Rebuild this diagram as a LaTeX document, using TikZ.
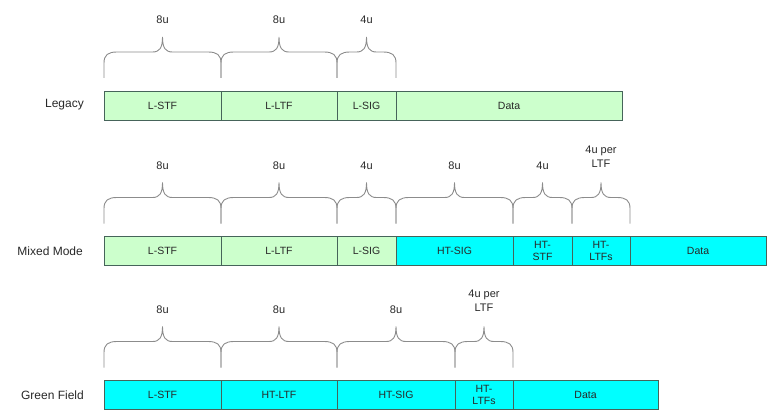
\documentclass[tikz,border=0pt]{standalone}
\usepackage{fontspec}
\setmainfont{Liberation Sans}
\usetikzlibrary{calc,positioning}

\definecolor{legacygreen}{RGB}{204,255,204}
\definecolor{htcyan}{RGB}{0,255,255}
\definecolor{fieldline}{RGB}{70,100,90}
\definecolor{bracegray}{RGB}{140,140,140}
\definecolor{textgray}{RGB}{40,40,40}

% brace over one field: [label height] {node} {label}
\newcommand{\fieldbrace}[3][71]{%
  \coordinate (bl) at (#2.north west);
  \coordinate (br) at (#2.north east);
  \coordinate (bm) at ($(bl)!0.5!(br)$);
  \draw[brc] ($(bl)+(0,13)$) -- ($(bl)+(0,28)$)
    .. controls ($(bl)+(0,36)$) and ($(bl)+(4,39)$) .. ($(bl)+(13,39)$)
    -- ($(bm)+(-10,39)$)
    .. controls ($(bm)+(-3,39)$) and ($(bm)+(0,43)$) .. ($(bm)+(0,54)$)
    .. controls ($(bm)+(0,43)$) and ($(bm)+(3,39)$) .. ($(bm)+(10,39)$)
    -- ($(br)+(-13,39)$)
    .. controls ($(br)+(-4,39)$) and ($(br)+(0,36)$) .. ($(br)+(0,28)$)
    -- ($(br)+(0,13)$);
  \node[brlabel] (#2-len) at ($(bm)+(0,#1)$) {#3};
}

\begin{document}
\begin{tikzpicture}[x=1pt,y=1pt,
    field/.style={draw=fieldline, line width=0.9pt, minimum height=29pt,
      inner sep=0pt, outer sep=0pt, align=center, text=textgray,
      font=\fontsize{10.5}{12}\selectfont},
    lfield/.style={field, fill=legacygreen},
    hfield/.style={field, fill=htcyan},
    brc/.style={draw=bracegray, line width=0.9pt},
    brlabel/.style={text=textgray, align=center, inner sep=0pt,
      font=\fontsize{11}{14}\selectfont},
    rowname/.style={text=textgray, anchor=east, inner sep=0pt,
      font=\fontsize{12}{13}\selectfont}]

    \useasboundingbox (0,0) rectangle (767,410);

    % Legacy frame
    \node[lfield, minimum width=117pt, anchor=west] (lg-stf) at (104,304.5) {L-STF};
    \node[lfield, minimum width=116pt, right=0pt of lg-stf] (lg-ltf) {L-LTF};
    \node[lfield, minimum width=59pt, right=0pt of lg-ltf] (lg-sig) {L-SIG};
    \node[lfield, minimum width=226pt, right=0pt of lg-sig] (lg-data) {Data};
    \node[rowname] (lg-name) at (84,305) {Legacy};

    \fieldbrace{lg-stf}{8u}
    \fieldbrace{lg-ltf}{8u}
    \fieldbrace{lg-sig}{4u}

    % Mixed Mode frame
    \node[lfield, minimum width=117pt, anchor=west] (mm-stf) at (104,159) {L-STF};
    \node[lfield, minimum width=116pt, right=0pt of mm-stf] (mm-ltf) {L-LTF};
    \node[lfield, minimum width=59pt, right=0pt of mm-ltf] (mm-sig) {L-SIG};
    \node[hfield, minimum width=117pt, right=0pt of mm-sig] (mm-htsig) {HT-SIG};
    \node[hfield, minimum width=59pt, right=0pt of mm-htsig] (mm-htstf) {HT-\\STF};
    \node[hfield, minimum width=58pt, right=0pt of mm-htstf] (mm-htltf) {HT-\\LTFs};
    \node[hfield, minimum width=136pt, right=0pt of mm-htltf] (mm-data) {Data};
    \node[rowname] (mm-name) at (83,159) {Mixed Mode};

    \fieldbrace{mm-stf}{8u}
    \fieldbrace{mm-ltf}{8u}
    \fieldbrace{mm-sig}{4u}
    \fieldbrace{mm-htsig}{8u}
    \fieldbrace{mm-htstf}{4u}
    \fieldbrace[80]{mm-htltf}{4u per\\LTF}

    % Green Field frame
    \node[hfield, minimum width=117pt, anchor=west] (gf-stf) at (104,15) {L-STF};
    \node[hfield, minimum width=116pt, right=0pt of gf-stf] (gf-htltf) {HT-LTF};
    \node[hfield, minimum width=118pt, right=0pt of gf-htltf] (gf-htsig) {HT-SIG};
    \node[hfield, minimum width=58pt, right=0pt of gf-htsig] (gf-htltfs) {HT-\\LTFs};
    \node[hfield, minimum width=145pt, right=0pt of gf-htltfs] (gf-data) {Data};
    \node[rowname] (gf-name) at (84,15) {Green Field};

    \fieldbrace{gf-stf}{8u}
    \fieldbrace{gf-htltf}{8u}
    \fieldbrace{gf-htsig}{8u}
    \fieldbrace[80]{gf-htltfs}{4u per\\LTF}

\end{tikzpicture}
\end{document}
